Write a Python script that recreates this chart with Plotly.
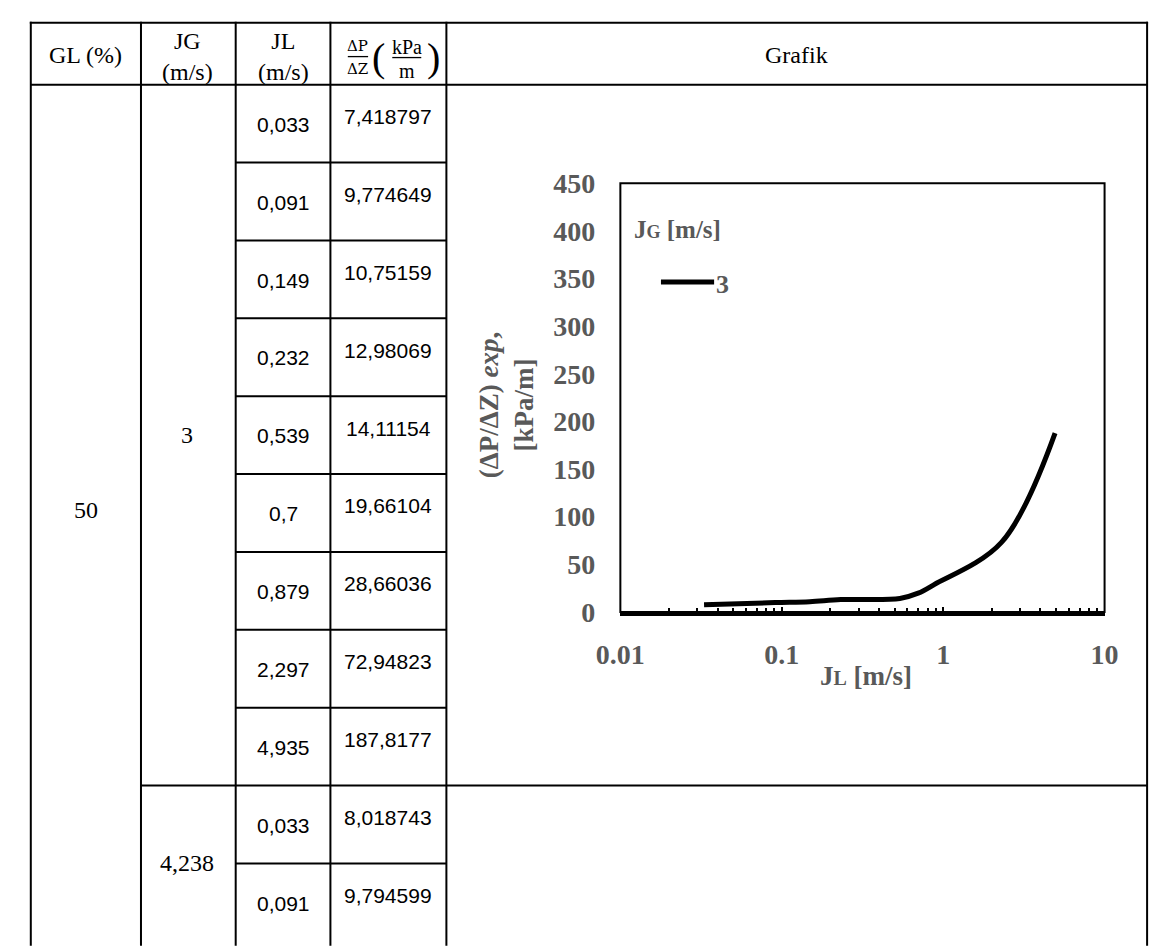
import plotly.graph_objects as go

W, H = 1164, 952

# ---- table data ----
gl_value = "50"
jg_groups = ["3", "4,238"]
jl_jg3 = [0.033, 0.091, 0.149, 0.232, 0.539, 0.7, 0.879, 2.297, 4.935]
dp_jg3 = [7.418797, 9.774649, 10.75159, 12.98069, 14.11154, 19.66104, 28.66036, 72.94823, 187.8177]
jl_jg4 = [0.033, 0.091]
dp_jg4 = [8.018743, 9.794599]

# ---- chart axes ----
x_tick_vals = [0.01, 0.1, 1, 10]
x_tick_text = ["0.01", "0.1", "1", "10"]
y_tick_vals = [0, 50, 100, 150, 200, 250, 300, 350, 400, 450]

SERIF = "Liberation Serif"
SANS = "Liberation Sans"
GREY = "#595959"


def px(x):
    return x / W


def py(y):
    return 1 - y / H


def comma(v):
    return str(v).replace(".", ",")


# table geometry (pixels)
cols = [6, 120, 218, 316, 436, 1161]
top, head_bot, row_h = 8, 72, 80.5
n_rows = len(jl_jg3) + len(jl_jg4)
row_edges = [head_bot + i * row_h for i in range(n_rows + 1)]

shapes = []


def hline(x0, x1, y, w=2):
    shapes.append(dict(type="line", xref="paper", yref="paper",
                       x0=px(x0), x1=px(x1), y0=py(y), y1=py(y),
                       line=dict(color="black", width=w)))


def vline(x, y0, y1, w=2):
    shapes.append(dict(type="line", xref="paper", yref="paper",
                       x0=px(x), x1=px(x), y0=py(y0), y1=py(y1),
                       line=dict(color="black", width=w)))


for c in cols:
    vline(c, top - 1, H + 10)
hline(cols[0] - 1, cols[-1] + 1, top)
hline(cols[0], cols[-1], head_bot)
# inner row separators (the table continues below the visible area)
for i in range(1, n_rows):
    if i == len(jl_jg3):
        hline(cols[1], cols[-1], row_edges[i])
    else:
        hline(cols[2], cols[4], row_edges[i])

annotations = []


def label(x, y, text, size, family=SERIF, color="black", weight="normal", **kw):
    d = dict(xref="paper", yref="paper", x=px(x), y=py(y), text=text,
             showarrow=False, xanchor="center", yanchor="middle",
             font=dict(size=size, family=family, color=color, weight=weight))
    d.update(kw)
    annotations.append(d)


# header
label(63, 41, "GL (%)", 24)
label(168, 43, "JG<br>(m/s)", 24)
label(267, 43, "JL<br>(m/s)", 24)
label(344, 32, "ΔP", 15, family="DejaVu Serif")
label(344, 56, "ΔZ", 15, family="DejaVu Serif")
hline(334, 355, 43, w=1.3)
label(366, 44, "(", 40)
label(395, 33, "kPa", 20)
label(395, 58, "m", 20)
hline(380, 410, 44, w=1.3)
label(423, 44, ")", 40)
label(798, 41, "Grafik", 24)

# body
label(63, 512, gl_value, 24)
label(168, (row_edges[0] + row_edges[len(jl_jg3)]) / 2, jg_groups[0], 24)
label(168, (row_edges[len(jl_jg3)] + row_edges[n_rows]) / 2, jg_groups[1], 24)
all_jl = jl_jg3 + jl_jg4
all_dp = dp_jg3 + dp_jg4
for i, (jl, dp) in enumerate(zip(all_jl, all_dp)):
    label(267, row_edges[i] + 41, comma(jl), 21, family=SANS)
    label(376, row_edges[i] + 33, comma(dp), 21, family=SANS)

# chart frame (pixels)
fx0, fx1, fy0, fy1 = 616, 1117, 174, 617
shapes.append(dict(type="rect", xref="x domain", yref="y domain",
                   x0=0, x1=1, y0=0, y1=1, layer="below",
                   line=dict(color="black", width=2)))

# axis titles
label(499, 403, "(ΔP/ΔZ) <i>exp</i>,<br>[kPa/m]", 27, color=GREY, weight="bold",
      textangle=-90)
label(870, 683, "J<span style='font-size:20px'>L</span> [m/s]", 27,
      color=GREY, weight="bold")

# legend
label(628, 222, "J<span style='font-size:18px'>G</span> [m/s]", 25, xanchor="left",
      color=GREY, weight="bold")
shapes.append(dict(type="line", xref="paper", yref="paper",
                   x0=px(658), x1=px(713), y0=py(276), y1=py(276),
                   line=dict(color="black", width=5)))
label(713, 279, jg_groups[0], 26, xanchor="left", color=GREY, weight="bold")

minor_vals = [m * 10.0 ** e for e in (-2, -1, 0) for m in range(2, 10)]

fig = go.Figure()
fig.add_trace(go.Scatter(x=jl_jg3, y=dp_jg3, mode="lines", name=jg_groups[0],
                         line=dict(color="black", width=5, shape="spline"),
                         showlegend=False))

fig.update_layout(
    width=W, height=H, margin=dict(l=0, r=0, t=0, b=0),
    paper_bgcolor="white", plot_bgcolor="white",
    shapes=shapes, annotations=annotations,
    xaxis=dict(type="log", range=[-2, 1], domain=[px(fx0), px(fx1)],
               tickmode="array", tickvals=x_tick_vals, ticktext=x_tick_text,
               ticks="inside", ticklen=5, tickwidth=2, tickcolor="black",
               minor=dict(tickmode="array", tickvals=minor_vals, ticks="inside",
                          ticklen=4, tickwidth=2, tickcolor="black", showgrid=False),
               showline=True, linewidth=4, linecolor="black",
               showgrid=False, zeroline=False, ticklabelstandoff=14,
               tickfont=dict(size=28, family=SERIF, color=GREY, weight="bold")),
    yaxis=dict(range=[0, 450], domain=[py(fy1), py(fy0)],
               tickmode="array", tickvals=y_tick_vals,
               ticks="", showline=False, showgrid=False, zeroline=False,
               ticklabelstandoff=24,
               tickfont=dict(size=28, family=SERIF, color=GREY, weight="bold")),
)

fig.write_html("out.html")
